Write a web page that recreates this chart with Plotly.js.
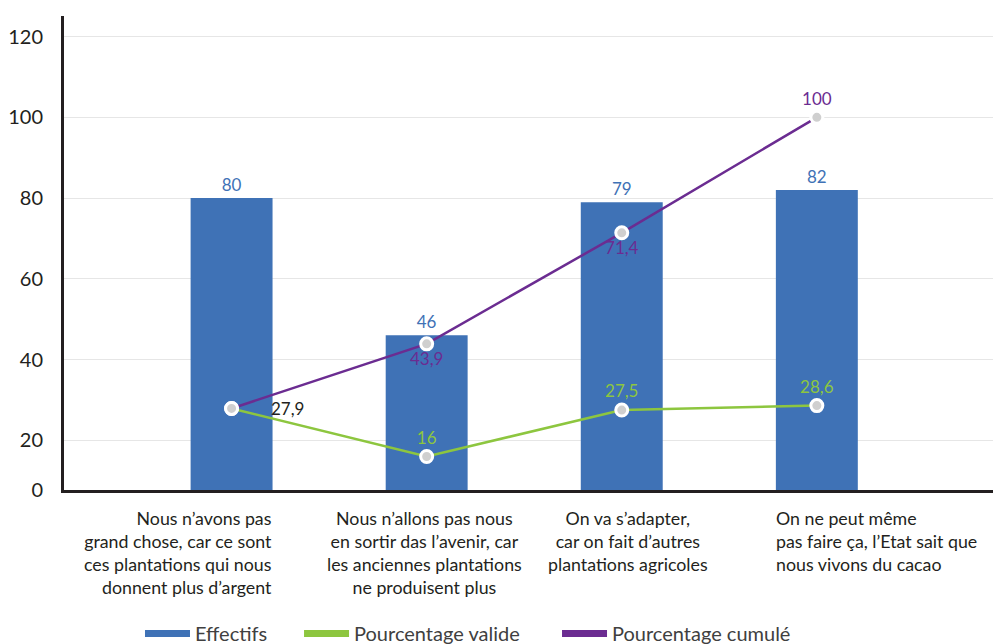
<!DOCTYPE html>
<html>
<head>
<meta charset="utf-8">
<script src="https://cdn.plot.ly/plotly-3.0.1.min.js"></script>
<style>html,body{margin:0;padding:0;background:#fff;}#chart{width:993px;height:644px;}</style>
</head>
<body>
<div id="chart"></div>
<script>
// ---- data ----
const categories = [
  "Nous n’avons pas<br>grand chose, car ce sont<br>ces plantations qui nous<br>donnent plus d’argent",
  "Nous n’allons pas nous<br>en sortir das l’avenir, car<br>les anciennes plantations<br>ne produisent plus",
  "On va s’adapter,<br>car on fait d’autres<br>plantations agricoles",
  "On ne peut même<br>pas faire ça, l’Etat sait que<br>nous vivons du cacao"
];
const effectifs = [80, 46, 79, 82];
const pctValide = [27.9, 16, 27.5, 28.6];
const pctCumule = [27.9, 43.9, 71.4, 100];
const seriesNames = ["Effectifs", "Pourcentage valide", "Pourcentage cumulé"];
const yTickVals = [20, 40, 60, 80, 100, 120];
const yTickText = ["20", "40", "60", "80", "100", "120"];

// ---- style ----
const BLUE = "#3F72B6", GREEN = "#8DC63F", PURPLE = "#6B2C91", DARK = "#231F20";
const FONT = "Lato, 'Open Sans', sans-serif";
const fmt = v => String(v).replace(".", ",");
const yMin = 7.7, yMax = 125.1;

const marker = {size: 12, color: "#CFCFCF", line: {color: "#FFFFFF", width: 3}};

const traces = [
  {
    type: "bar", x: categories, y: effectifs, name: seriesNames[0],
    marker: {color: BLUE}, width: 0.42, showlegend: false,
    text: effectifs.map(fmt), textposition: "outside", cliponaxis: false,
    textfont: {color: BLUE, size: 17, family: FONT}, hoverinfo: "x+y"
  },
  {
    type: "scatter", mode: "lines+markers+text", x: categories, y: pctValide,
    name: seriesNames[1], showlegend: false,
    line: {color: GREEN, width: 2.5}, marker: marker,
    text: pctValide.map((v, i) => i === 0 ? "" : fmt(v)),
    textposition: "top center", cliponaxis: false,
    textfont: {color: GREEN, size: 17, family: FONT}
  },
  {
    type: "scatter", mode: "lines+markers+text", x: categories, y: pctCumule,
    name: seriesNames[2], showlegend: false,
    line: {color: PURPLE, width: 2.5}, marker: marker,
    text: pctCumule.map((v, i) => i === 0 ? "" : fmt(v)),
    textposition: pctCumule.map((v, i) => i === pctCumule.length - 1 ? "top center" : "bottom center"),
    cliponaxis: false,
    textfont: {color: PURPLE, size: 17, family: FONT}
  }
];
// legend entries (thick line swatches), one legend each so they can be spaced like the original
const legendIds = ["legend", "legend2", "legend3"];
[BLUE, GREEN, PURPLE].forEach((c, i) => {
  traces.push({type: "scatter", mode: "lines", x: [null], y: [null], name: seriesNames[i],
    legend: legendIds[i], line: {color: c, width: 7}, hoverinfo: "skip"});
});

const catAnn = [
  {anchor: "right", align: "right", shift: 42},
  {anchor: "center", align: "center", shift: -2},
  {anchor: "center", align: "center", shift: 6},
  {anchor: "left", align: "left", shift: -43}
];
const annotations = categories.map((c, i) => ({
  x: c, xref: "x", y: 0, yref: "paper", yanchor: "top", yshift: -15,
  xanchor: catAnn[i].anchor, align: catAnn[i].align, xshift: catAnn[i].shift,
  text: c, showarrow: false, font: {size: 17.8, color: DARK, family: FONT}
}));
annotations.push({
  x: categories[0], y: pctValide[0], xref: "x", yref: "y", xanchor: "left", xshift: 37,
  text: fmt(pctValide[0]), showarrow: false, font: {size: 17, color: DARK, family: FONT}
});

const legendBase = {orientation: "h", xanchor: "left", y: -0.2615, yanchor: "top",
  font: {size: 20, color: "#404040", family: FONT}, itemwidth: 45, bgcolor: "rgba(0,0,0,0)"};
const legendX = [0.0818, 0.2530, 0.5307];

const layout = {
  width: 993, height: 644,
  margin: {l: 64, r: 0, t: 16, b: 154, autoexpand: false},
  paper_bgcolor: "#fff", plot_bgcolor: "#fff",
  font: {family: FONT, color: DARK},
  showlegend: true,
  legend: Object.assign({}, legendBase, {x: legendX[0]}),
  legend2: Object.assign({}, legendBase, {x: legendX[1]}),
  legend3: Object.assign({}, legendBase, {x: legendX[2]}),
  xaxis: {type: "category", range: [-0.859, 3.903], showticklabels: false, ticks: "",
    showgrid: false, zeroline: false, showline: true, linecolor: DARK, linewidth: 3},
  yaxis: {range: [yMin, yMax], tickvals: [yMin].concat(yTickVals), ticktext: ["0"].concat(yTickText),
    showgrid: true, gridcolor: "#E6E6E6", gridwidth: 1, zeroline: false,
    showline: true, linecolor: DARK, linewidth: 3, ticks: "", ticklabelstandoff: 14,
    tickfont: {size: 20, color: DARK, family: FONT}},
  annotations: annotations
};

Plotly.newPlot("chart", traces, layout, {displayModeBar: false, staticPlot: true});
</script>
</body>
</html>
